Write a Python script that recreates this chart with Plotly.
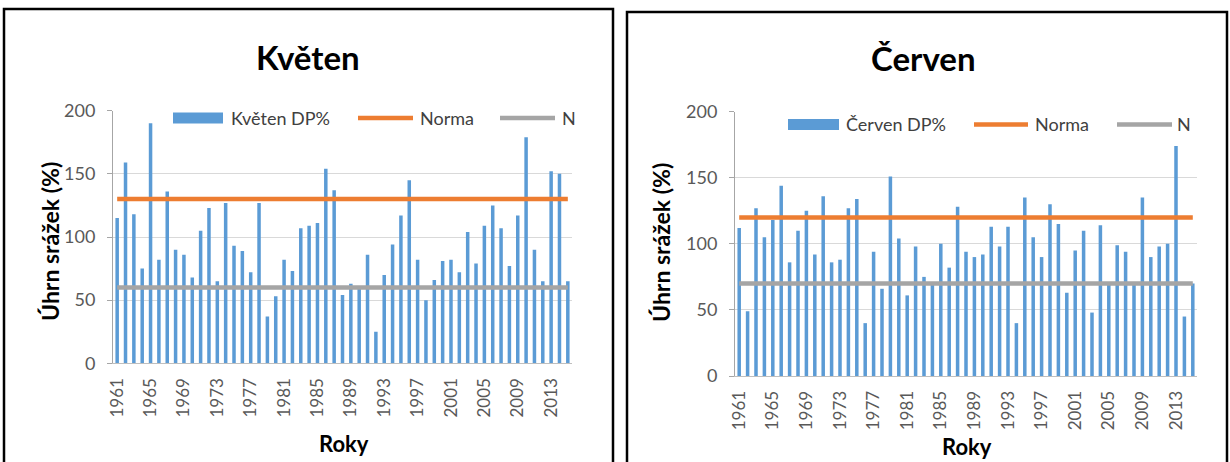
import plotly.graph_objects as go

# Monthly precipitation as % of the long-term normal, 1961-2015
years = list(range(1961, 2016))
kveten_dp = [115, 159, 118, 75, 190, 82, 136, 90, 86, 68,
             105, 123, 65, 127, 93, 89, 72, 127, 37, 53,
             82, 73, 107, 109, 111, 154, 137, 54, 63, 59,
             86, 25, 70, 94, 117, 145, 82, 50, 66, 81,
             82, 72, 104, 79, 109, 125, 107, 77, 117, 179,
             90, 65, 152, 150, 65]
cerven_dp = [112, 49, 127, 105, 118, 144, 86, 110, 125, 92,
             136, 86, 88, 127, 134, 40, 94, 66, 151, 104,
             61, 98, 75, 69, 100, 82, 128, 94, 90, 92,
             113, 98, 113, 40, 135, 105, 90, 130, 115, 63,
             95, 110, 48, 114, 69, 99, 94, 69, 135, 90,
             98, 100, 174, 45, 70]
kveten_norma = 130
kveten_n = 60
cerven_norma = 120
cerven_n = 70
tick_years = list(range(1961, 2014, 4))
y_ticks = [0, 50, 100, 150, 200]

W, H = 1230, 462
FONT = "Lato"
BLUE = "#5B9BD5"
ORANGE = "#ED7D31"
GRAY = "#A5A5A5"
TXT = "#595959"


def px(x):
    return x / W


def py(y):
    return 1 - y / H


fig = go.Figure()

panels = [
    dict(name="Květen", dp=kveten_dp, norma=kveten_norma, n=kveten_n,
         xa="x", ya="y", xdom=(113, 572), ydom=(363.3, 110.7),
         box=(4, 9, 613), title_xy=(308, 57), ytitle_x=50, ytitle_y=242,
         xtitle_xy=(344, 443), leg_y=118,
         leg=dict(rect=(173, 223), t1=229, l1=(358, 413), t2=418,
                  l2=(500, 555), t3=560)),
    dict(name="Červen", dp=cerven_dp, norma=cerven_norma, n=cerven_n,
         xa="x2", ya="y2", xdom=(735, 1197), ydom=(376, 111.7),
         box=(627, 12, 1227), title_xy=(923, 58), ytitle_x=661, ytitle_y=243,
         xtitle_xy=(967, 446), leg_y=124.5,
         leg=dict(rect=(788, 839), t1=844, l1=(974, 1028), t2=1033,
                  l2=(1117, 1172), t3=1175)),
]

shapes = []
annotations = []

for i, p in enumerate(panels):
    fig.add_trace(go.Bar(x=years, y=p["dp"], name=f"{p['name']} DP%",
                         marker=dict(color=BLUE, line=dict(width=0)),
                         width=0.42, xaxis=p["xa"], yaxis=p["ya"],
                         showlegend=False))
    fig.add_trace(go.Scatter(x=years, y=[p["norma"]] * len(years), name="Norma",
                             mode="lines", line=dict(color=ORANGE, width=4.5),
                             xaxis=p["xa"], yaxis=p["ya"], showlegend=False))
    fig.add_trace(go.Scatter(x=years, y=[p["n"]] * len(years), name="N",
                             mode="lines", line=dict(color=GRAY, width=4.5),
                             xaxis=p["xa"], yaxis=p["ya"], showlegend=False))

    sfx = "" if i == 0 else "2"
    fig.update_layout(**{
        f"xaxis{sfx}": dict(
            domain=[px(p["xdom"][0]), px(p["xdom"][1])],
            range=[1960.5, 2015.5], tickmode="array", tickvals=tick_years,
            ticktext=[str(t) for t in tick_years], tickangle=-90,
            showgrid=False, showline=True, linecolor="#BFBFBF", linewidth=1,
            ticks="", zeroline=False, anchor=p["ya"], automargin=False,
            tickfont=dict(family=FONT, size=17, color=TXT),
            ticklabelstandoff=7,
        ),
        f"yaxis{sfx}": dict(
            domain=[py(p["ydom"][0]), py(p["ydom"][1])],
            range=[0, 200], tickmode="array", tickvals=y_ticks,
            showgrid=True, gridcolor="#D9D9D9", gridwidth=1,
            showline=True, linecolor="#A6A6A6", linewidth=1,
            ticks="outside", ticklen=5, tickcolor="#A6A6A6",
            zeroline=False, anchor=p["xa"], automargin=False,
            tickfont=dict(family=FONT, size=18, color=TXT),
            ticklabelstandoff=8,
        ),
    })

    # panel frame
    bx0, by0, bx1 = p["box"]
    shapes.append(dict(type="rect", xref="paper", yref="paper",
                       x0=px(bx0), x1=px(bx1), y0=py(by0), y1=-0.05,
                       line=dict(color="black", width=2.5), layer="above"))

    # chart title
    annotations.append(dict(text=f"<b>{p['name']}</b>", xref="paper", yref="paper",
                            x=px(p["title_xy"][0]), y=py(p["title_xy"][1]),
                            xanchor="center", yanchor="middle", showarrow=False,
                            font=dict(family=FONT, size=33, color="black")))
    # axis titles
    annotations.append(dict(text="<b>Úhrn srážek (%)</b>", xref="paper", yref="paper",
                            x=px(p["ytitle_x"]), y=py(p["ytitle_y"]), textangle=-90,
                            xanchor="center", yanchor="middle", showarrow=False,
                            font=dict(family=FONT, size=23, color="black")))
    annotations.append(dict(text="<b>Roky</b>", xref="paper", yref="paper",
                            x=px(p["xtitle_xy"][0]), y=py(p["xtitle_xy"][1]),
                            xanchor="center", yanchor="middle", showarrow=False,
                            font=dict(family=FONT, size=22, color="black")))

    # legend row
    lg = p["leg"]
    ly = p["leg_y"]
    shapes.append(dict(type="rect", xref="paper", yref="paper",
                       x0=px(lg["rect"][0]), x1=px(lg["rect"][1]),
                       y0=py(ly + 5.5), y1=py(ly - 5.5),
                       fillcolor=BLUE, line=dict(width=0)))
    shapes.append(dict(type="line", xref="paper", yref="paper",
                       x0=px(lg["l1"][0]), x1=px(lg["l1"][1]), y0=py(ly), y1=py(ly),
                       line=dict(color=ORANGE, width=4.5)))
    shapes.append(dict(type="line", xref="paper", yref="paper",
                       x0=px(lg["l2"][0]), x1=px(lg["l2"][1]), y0=py(ly), y1=py(ly),
                       line=dict(color=GRAY, width=4.5)))
    for tx, label in [(lg["t1"], f"{p['name']} DP%"), (lg["t2"], "Norma"), (lg["t3"], "N")]:
        annotations.append(dict(text=label, xref="paper", yref="paper",
                                x=px(tx), y=py(ly), xanchor="left", yanchor="middle",
                                showarrow=False,
                                font=dict(family=FONT, size=18, color="#404040")))

fig.update_layout(
    width=W, height=H,
    margin=dict(l=0, r=0, t=0, b=0, pad=0, autoexpand=False),
    paper_bgcolor="white", plot_bgcolor="white",
    bargap=0.5, showlegend=False,
    shapes=shapes, annotations=annotations,
    font=dict(family=FONT),
)

fig.write_html("out.html")
